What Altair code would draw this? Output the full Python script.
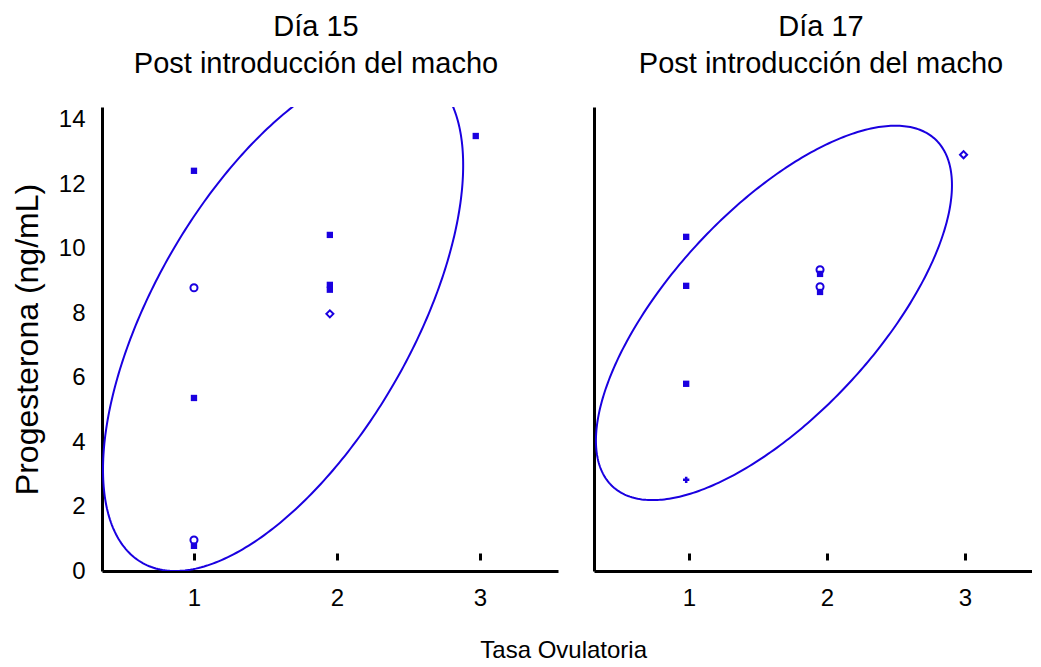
import altair as alt
import numpy as np
import pandas as pd

FONT = "Liberation Sans"
BLUE = "#1a00e0"

panel_titles = ["Día 15", "Día 17"]
subtitle = "Post introducción del macho"
y_title = "Progesterona  (ng/mL)"
x_title = "Tasa Ovulatoria"
x_ticks = [1, 2, 3]
y_ticks = [0, 2, 4, 6, 8, 10, 12, 14]

# Día 15 observations
d15_x = [1, 1, 1, 1, 1, 1.95, 1.95, 1.95, 1.95, 2.97]
d15_y = [12.42, 8.79, 5.37, 0.96, 0.78, 10.43, 8.88, 8.73, 7.98, 13.5]
d15_shape = ["square", "circle", "square", "circle", "square",
             "square", "square", "square", "diamond", "square"]
d15_filled = [True, False, True, False, True, True, True, True, False, True]

# Día 17 observations
d17_x = [0.98, 0.98, 0.98, 0.98, 1.95, 1.95, 1.95, 1.95, 2.99]
d17_y = [10.37, 8.85, 5.81, 2.83, 9.35, 9.22, 8.82, 8.66, 12.92]
d17_shape = ["square", "square", "square", "cross", "circle",
             "square", "circle", "square", "diamond"]
d17_filled = [True, True, True, True, False, True, False, True, False]

# Density ellipses: centre x, centre y, half-width, half-height, cos(phase)
ell15 = [1.623, 7.87, 1.259, 7.87, 0.60]
ell17 = [1.616, 8.01, 1.29, 5.81, 0.682]

x_dom15 = [0.357, 3.545]
x_dom17 = [0.312, 3.486]
y_dom = [0, 14.4]


def ellipse_frame(p):
    cx, cy, rx, ry, c = p
    phi = np.arccos(c)
    t = np.linspace(0, 2 * np.pi, 361)
    return pd.DataFrame({"x": cx + rx * np.cos(t),
                         "y": cy + ry * np.cos(t - phi),
                         "i": np.arange(len(t))})


def panel(title, xs, ys, shapes, filled, ell, xdom, width, height, left, tdx):
    pts = pd.DataFrame({"x": xs, "y": ys, "shape": shapes, "filled": filled})
    xs_scale = alt.Scale(domain=xdom, nice=False, zero=False)
    ys_scale = alt.Scale(domain=y_dom, nice=False, zero=False)

    main_x = alt.Axis(values=x_ticks, orient="bottom", ticks=False, domain=True,
                      domainColor="black", domainWidth=3, labelFont=FONT,
                      labelFontSize=24, labelColor="black", labelPadding=15,
                      grid=False, title=None)
    tick_x = alt.Axis(values=x_ticks, orient="bottom", offset=-18, domain=False,
                      labels=False, ticks=True, tickSize=7, tickWidth=3,
                      tickColor="black", grid=False, title=None)
    if left:
        y_axis = alt.Axis(values=y_ticks, ticks=False, domain=True,
                          domainColor="black", domainWidth=3, labelFont=FONT,
                          labelFontSize=24, labelColor="black", labelPadding=17,
                          grid=False, title=y_title, titleFont=FONT,
                          titleFontSize=32, titleFontWeight="normal",
                          titleColor="black", titlePadding=14)
    else:
        y_axis = alt.Axis(values=y_ticks, ticks=False, labels=False, domain=True,
                          domainColor="black", domainWidth=3, grid=False,
                          title=None)

    ell_layer = alt.Chart(ellipse_frame(ell)).mark_line(
        color=BLUE, strokeWidth=2, clip=True
    ).encode(
        x=alt.X("x:Q", scale=xs_scale, axis=tick_x),
        y=alt.Y("y:Q", scale=ys_scale, axis=y_axis),
        order="i:Q",
    )
    full = alt.Chart(pts[pts["filled"]]).mark_point(
        filled=True, color=BLUE, size=40, opacity=1
    ).encode(
        x=alt.X("x:Q", scale=xs_scale, axis=main_x),
        y=alt.Y("y:Q", scale=ys_scale, axis=y_axis),
        shape=alt.Shape("shape:N", scale=None),
    )
    hollow = alt.Chart(pts[~pts["filled"]]).mark_point(
        filled=False, color=BLUE, size=50, strokeWidth=2, opacity=1
    ).encode(
        x=alt.X("x:Q", scale=xs_scale, axis=None),
        y=alt.Y("y:Q", scale=ys_scale, axis=y_axis),
        shape=alt.Shape("shape:N", scale=None),
    )
    return alt.layer(ell_layer, full, hollow).resolve_axis(
        x="independent"
    ).properties(
        width=width, height=height,
        title=alt.TitleParams([title, subtitle], font=FONT, fontSize=29,
                              fontWeight="normal", color="black",
                              lineHeight=37, offset=28, anchor="middle",
                              dx=tdx),
    )


left = panel(panel_titles[0], d15_x, d15_y, d15_shape, d15_filled, ell15,
             x_dom15, 456, 464, True, -14)
right = panel(panel_titles[1], d17_x, d17_y, d17_shape, d17_filled, ell17,
              x_dom17, 438, 464, False, 8)

chart = alt.hconcat(left, right, spacing=36).properties(
    title=alt.TitleParams(x_title, orient="bottom", anchor="middle",
                          font=FONT, fontSize=24, fontWeight="normal",
                          color="black", offset=29, dx=42),
    padding={"left": 3, "top": 5, "right": 0, "bottom": 0},
    background="white",
).configure_view(stroke=None)

chart.save("out.html", embed_options={"renderer": "svg", "actions": False})
